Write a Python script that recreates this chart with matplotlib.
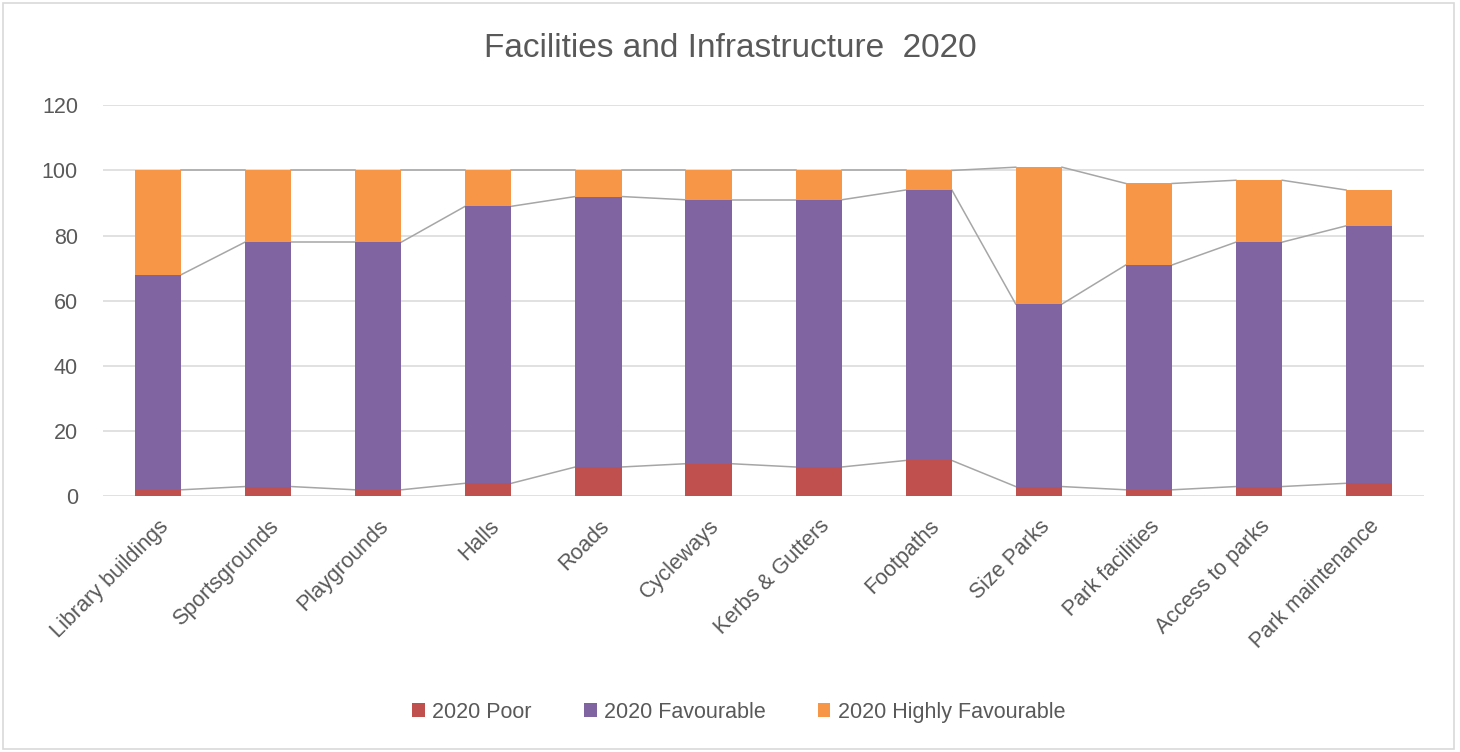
import numpy as np
import matplotlib.pyplot as plt
from matplotlib.patches import Rectangle

categories = ['Library buildings', 'Sportsgrounds', 'Playgrounds', 'Halls', 'Roads',
              'Cycleways', 'Kerbs & Gutters', 'Footpaths', 'Size Parks',
              'Park facilities', 'Access to parks', 'Park maintenance']
poor = [2, 3, 2, 4, 9, 10, 9, 11, 3, 2, 3, 4]
favourable = [66, 75, 76, 85, 83, 81, 82, 83, 56, 69, 75, 79]
highly = [32, 22, 22, 11, 8, 9, 9, 6, 42, 25, 19, 11]
series_names = ['2020 Poor', '2020 Favourable', '2020 Highly Favourable']
colors = ['#c0504d', '#8064a2', '#f79646']

plt.rcParams['font.family'] = ['Liberation Sans', 'DejaVu Sans']
txt = '#595959'

fig = plt.figure(figsize=(14.6, 7.52), dpi=100)
ax = fig.add_axes([0.0705, 0.340, 0.905, 0.520])

x = np.arange(len(categories))
w = 0.42
p = np.array(poor, dtype=float)
f = np.array(favourable, dtype=float)
h = np.array(highly, dtype=float)
bottoms = [np.zeros_like(p), p, p + f]
vals = [p, f, h]
for v, b, c, n in zip(vals, bottoms, colors, series_names):
    ax.bar(x, v, w, bottom=b, color=c, label=n, zorder=2)

# series lines joining the tops of each segment
for level in [p, p + f, p + f + h]:
    for i in range(len(x) - 1):
        ax.plot([x[i] + w / 2, x[i + 1] - w / 2], [level[i], level[i + 1]],
                color='#a6a6a6', lw=1.1, zorder=1)

ax.set_ylim(0, 120)
ax.set_xlim(-0.5, len(x) - 0.5)
ax.set_yticks(range(0, 121, 20))
ax.yaxis.grid(True, color='#d9d9d9', lw=1.1)
ax.set_axisbelow(True)
for s in ax.spines.values():
    s.set_visible(False)
ax.tick_params(length=0, colors=txt, labelsize=15.5)
ax.tick_params(axis='y', pad=18)
ax.set_xticks(x)
ax.set_xticklabels(categories, rotation=45, ha='right', rotation_mode='anchor')
ax.tick_params(axis='x', pad=14)

fig.text(0.5, 0.936, 'Facilities and Infrastructure  2020', ha='center', va='center',
         fontsize=24, color=txt)

fig.legend(loc='center', bbox_to_anchor=(0.506, 0.053), ncol=3, frameon=False,
           fontsize=15.5, labelcolor=txt, handlelength=0.6, handleheight=0.6,
           handletextpad=0.35, columnspacing=2.4)

fig.patches.append(Rectangle((0.002, 0.004), 0.994, 0.992, transform=fig.transFigure,
                             fill=False, edgecolor='#d9d9d9', lw=1.2))

fig.savefig('out.png', dpi=100)
